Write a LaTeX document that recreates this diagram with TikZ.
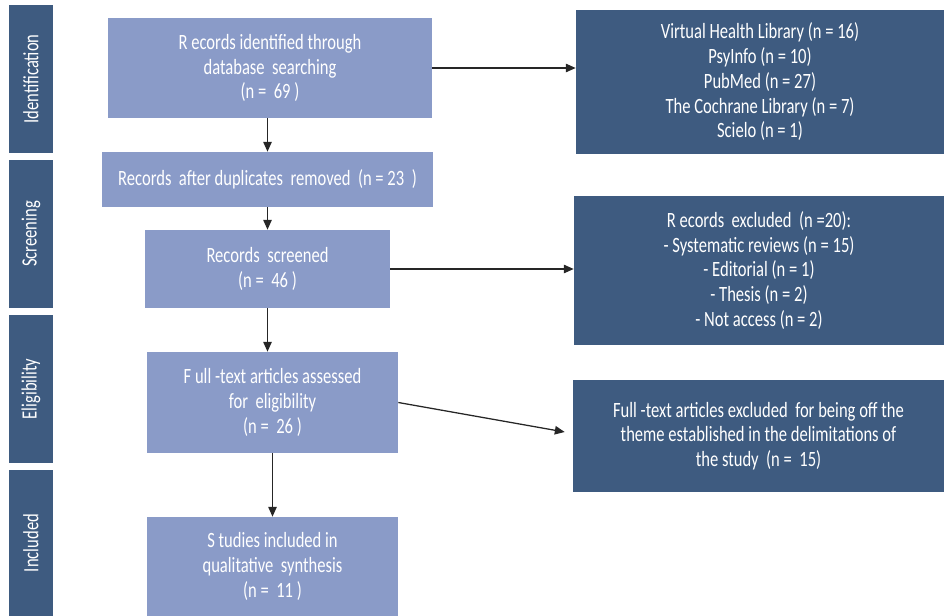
\documentclass[tikz,border=0pt]{standalone}
\usepackage{fontspec}
\setmainfont{Carlito}[FakeStretch=0.76]
\usepackage{xcolor}
\usepackage{tikz}
\usetikzlibrary{arrows.meta, positioning}

\definecolor{lightbox}{RGB}{138,155,200}
\definecolor{darkbox}{RGB}{62,91,128}

\begin{document}
\begin{tikzpicture}[
    x=0.025cm, y=-0.025cm,
    box/.style={rectangle, inner sep=2pt, align=center, text=white,
                font=\fontsize{15.5}{17.6}\selectfont},
    flowbox/.style={box, fill=lightbox},
    sidebox/.style={box, fill=darkbox},
    phase/.style={box, fill=darkbox, minimum width=1.1cm, minimum height=3.7cm},
    arrow/.style={-{Triangle[length=7pt, width=6pt]}, line width=0.9pt, black!85},
]
\useasboundingbox (0,0) rectangle (944,616);

% Phase bars (left column)
\node[phase] (ident) at (31,79) {\rotatebox{90}{Identification}};
\node[phase] (screen) at (31,234) {\rotatebox{90}{Screening}};
\node[phase] (elig) at (31,389) {\rotatebox{90}{Eligibility}};
\node[phase, minimum height=3.65cm] (incl) at (31,543) {\rotatebox{90}{Included}};

% Main flow (middle column)
\node[flowbox, minimum width=8.1cm, minimum height=2.5cm] (identified) at (270,68)
    {R ecords identified through\\ database\ \ searching\\ (n =\ \ 69 )};
\node[flowbox, minimum width=8.275cm, minimum height=1.375cm] (dupl) at (267.5,179.5)
    {Records\ \ after duplicates\ \ removed\ \ (n = 23\ \ )};
\node[flowbox, minimum width=6.125cm, minimum height=1.95cm] (screened) at (267.5,269)
    {Records\ \ screened\\ (n =\ \ 46 )};
\node[flowbox, minimum width=6.275cm, minimum height=2.525cm] (fulltext) at (272.5,402.5)
    {F ull -text articles assessed\\ for\ \ eligibility\\ (n =\ \ 26 )};
\node[flowbox, minimum width=6.275cm, minimum height=2.475cm] (included) at (272.5,566.5)
    {S tudies included in\\ qualitative\ \ synthesis\\ (n =\ \ 11 )};

% Side boxes (right column)
\node[sidebox, minimum width=9.2cm, minimum height=3.6cm] (sources) at (760,82)
    {Virtual Health Library (n = 16)\\ PsyInfo (n = 10)\\ PubMed (n = 27)\\
     The Cochrane Library (n = 7)\\ Scielo (n = 1)};
\node[sidebox, minimum width=9.25cm, minimum height=3.725cm] (excluded) at (759,270.5)
    {R ecords\ \ excluded\ \ (n =20):\\ - Systematic reviews (n = 15)\\
     - Editorial (n = 1)\\ - Thesis (n = 2)\\ - Not access (n = 2)};
\node[sidebox, minimum width=9.275cm, minimum height=2.8cm] (offtheme) at (758.5,436)
    {Full -text articles excluded\ \ for being off the\\
     theme established in the delimitations of\\ the study\ \ (n =\ \ 15)};

% Arrows down
\draw[arrow] (identified.south -| dupl.north) -- (dupl.north);
\draw[arrow] (dupl.south -| screened.north) -- (screened.north);
\draw[arrow] (screened.south) -- (screened.south |- fulltext.north);
\draw[arrow] (fulltext.south) -- (included.north);

% Arrows right
\draw[arrow] (identified.east) -- (identified.east -| sources.west);
\draw[arrow] (screened.east) -- (screened.east -| excluded.west);
\draw[arrow] (fulltext.east) -- ([xshift=-0.2cm, yshift=0.1cm]offtheme.west);
\end{tikzpicture}
\end{document}
